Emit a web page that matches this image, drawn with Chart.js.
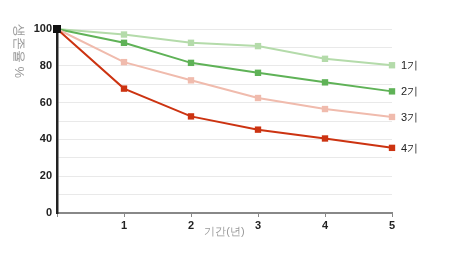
<!DOCTYPE html>
<html>
<head>
<meta charset="utf-8">
<script src="https://cdn.jsdelivr.net/npm/chart.js@4"></script>
<style>
  html, body { margin: 0; padding: 0; background: #fff; }
  #wrap { width: 451px; height: 264px; }
</style>
</head>
<body>
<div id="wrap"><canvas id="survival"></canvas></div>
<script>
const years = [0, 1, 2, 3, 4, 5];
const seriesNames = ['1기', '2기', '3기', '4기'];
const gen1 = [100, 97.0, 92.5, 90.7, 83.8, 80.3];
const gen2 = [100, 92.5, 81.6, 76.2, 71.0, 66.1];
const gen3 = [100, 82.0, 72.1, 62.5, 56.5, 52.2];
const gen4 = [100, 67.6, 52.5, 45.3, 40.5, 35.4];
const colors = ['#b4dbaa', '#5fb257', '#f0bbad', '#cc3311'];
const yTickLabels = [0, 20, 40, 60, 80, 100];

const font = 'Liberation Sans, Arial, sans-serif';

function toPoints(values) {
    return values.map((v, i) => ({ x: years[i], y: v }));
}

const datasets = [gen4, gen3, gen2, gen1].map((vals, k) => {
    const idx = 3 - k;
    const c = colors[idx];
    return {
        label: seriesNames[idx],
        data: toPoints(vals),
        borderColor: c,
        backgroundColor: c,
        borderWidth: 2,
        pointStyle: 'rect',
        pointRadius: vals.map((v, i) => i === 0 ? 5.5 : 4.5),
        pointBackgroundColor: vals.map((v, i) => i === 0 ? '#111' : c),
        pointBorderColor: vals.map((v, i) => i === 0 ? '#111' : c),
        pointBorderWidth: 0,
        tension: 0,
        clip: false
    };
});

// labels at the end of each line + axis titles
const sideLabels = {
    id: 'sideLabels',
    afterDatasetsDraw(chart) {
        const ctx = chart.ctx;
        const xs = chart.scales.x, ys = chart.scales.y;
        ctx.save();
        ctx.font = '11px ' + font;
        ctx.fillStyle = '#222';
        ctx.textAlign = 'left';
        ctx.textBaseline = 'middle';
        chart.data.datasets.forEach(ds => {
            const last = ds.data[ds.data.length - 1];
            ctx.fillText(ds.label, xs.getPixelForValue(last.x) + 9, ys.getPixelForValue(last.y) + 1);
        });
        // x title
        ctx.fillStyle = '#999';
        ctx.textAlign = 'center';
        ctx.fillText('기간(년)', (xs.left + xs.right) / 2, ys.bottom + 19);
        // y title, reading top to bottom
        ctx.translate(19, ys.top - 5);
        ctx.rotate(Math.PI / 2);
        ctx.textAlign = 'left';
        ctx.font = '13px ' + font;
        ctx.fillText('생존율 %', 0, 0);
        ctx.restore();
    }
};

new Chart(document.getElementById('survival'), {
    type: 'line',
    data: { datasets: datasets },
    plugins: [sideLabels],
    options: {
        responsive: true,
        maintainAspectRatio: false,
        animation: false,
        layout: { padding: { left: 0, right: 59, top: 29, bottom: 31 } },
        plugins: { legend: { display: false }, tooltip: { enabled: false } },
        scales: {
            x: {
                type: 'linear',
                min: 0,
                max: 5,
                afterFit: s => { s.height = 20; },
                ticks: {
                    stepSize: 1,
                    color: '#222',
                    padding: 2,
                    font: { family: font, size: 11, weight: 'bold' },
                    callback: v => v === 0 ? '' : v
                },
                grid: {
                    drawOnChartArea: false,
                    drawTicks: true,
                    tickLength: 4,
                    color: '#888'
                },
                border: { color: '#888', width: 2 }
            },
            y: {
                min: 0,
                max: 100,
                afterFit: s => { s.width = 57; },
                ticks: {
                    stepSize: 10,
                    color: '#222',
                    padding: 5,
                    font: { family: font, size: 11, weight: 'bold' },
                    callback: v => yTickLabels.includes(v) ? v : ''
                },
                grid: {
                    color: '#e9e9e9',
                    drawTicks: false
                },
                border: { color: '#222', width: 2.5 }
            }
        }
    }
});
</script>
</body>
</html>
